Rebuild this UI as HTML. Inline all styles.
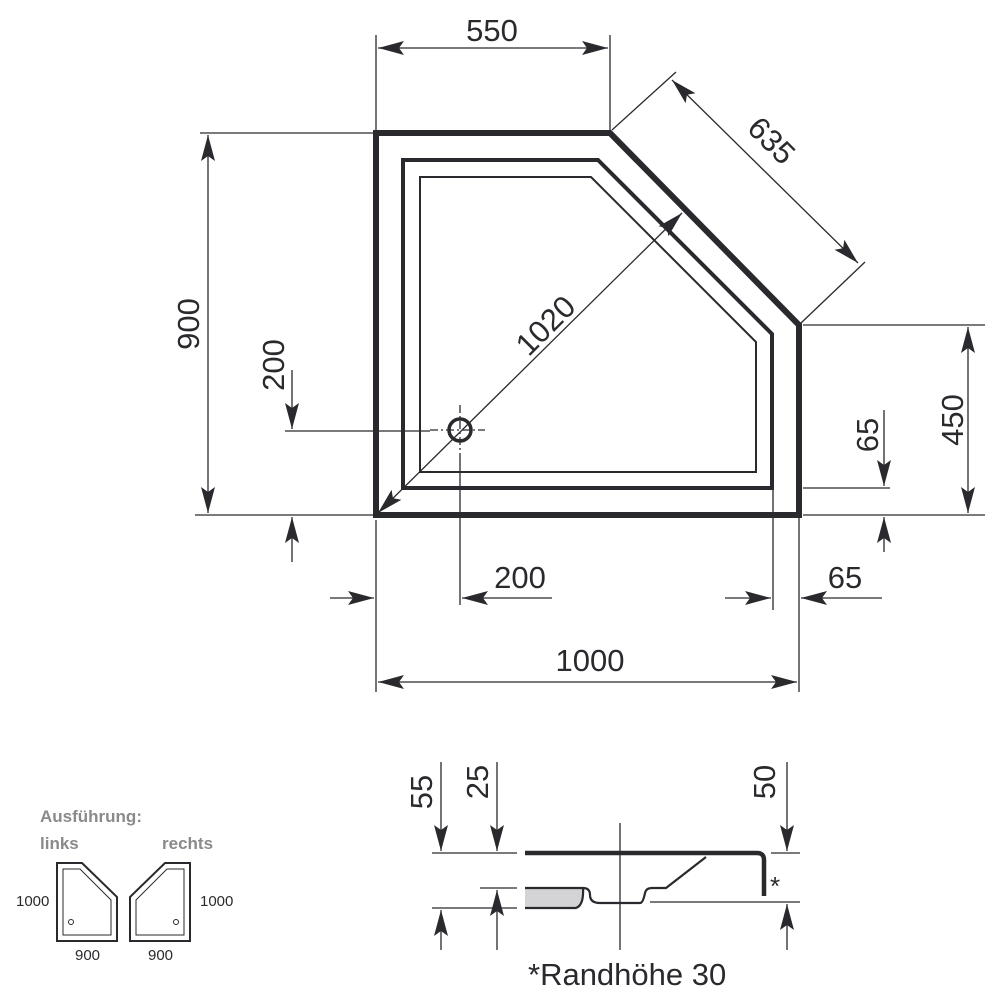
<!DOCTYPE html>
<html><head><meta charset="utf-8"><style>
html,body{margin:0;padding:0;background:#fff;}
svg{display:block}
text{font-family:"Liberation Sans",sans-serif;fill:#2a2a2e}
</style></head><body>
<svg width="1000" height="1000" viewBox="0 0 1000 1000" xmlns="http://www.w3.org/2000/svg">
<defs>
<marker id="a" viewBox="0 0 26 14" refX="26" refY="7" markerWidth="26" markerHeight="14" markerUnits="userSpaceOnUse" orient="auto-start-reverse">
<path d="M0,0 L26,7 L0,14 L5,7 z" fill="#2a2a2e"/></marker>
</defs>
<g stroke="#2a2a2e" fill="none">
<path d="M376,133 H610 L799,325 V515 H376 Z" stroke-width="6"/>
<path d="M403,160 H598 L772,334 V488 H403 Z" stroke-width="4"/>
<path d="M420,177 H591 L756,342 V472 H420 Z" stroke-width="2"/>
<circle cx="460" cy="430" r="11" stroke-width="3.5"/>
<g stroke-width="1.3">
<path d="M430,430 H485 M460,405 V455" stroke-dasharray="8,3,2,3"/>
<path d="M376,35 V133 M610,35 V133"/>
<path d="M200,133 H376 M195,515 H376 M285,431 H430"/>
<path d="M612,130 L676,72 M801,323 L865,262"/>
<path d="M803,325 H985 M803,515 H985 M803,488 H890"/>
<path d="M376,520 V692 M460,455 V605 M773,490 V610 M799,518 V692"/>
<path d="M378,48 H608" marker-start="url(#a)" marker-end="url(#a)"/>
<path d="M672,80 L858,263" marker-start="url(#a)" marker-end="url(#a)"/>
<path d="M208,135 V513" marker-start="url(#a)" marker-end="url(#a)"/>
<path d="M968,327 V513" marker-start="url(#a)" marker-end="url(#a)"/>
<path d="M378,513 L682,213" marker-start="url(#a)" marker-end="url(#a)"/>
<path d="M378,682 H797" marker-start="url(#a)" marker-end="url(#a)"/>
<path d="M292,370 V429" marker-end="url(#a)"/>
<path d="M292,562 V517" marker-end="url(#a)"/>
<path d="M884,410 V486" marker-end="url(#a)"/>
<path d="M884,552 V517" marker-end="url(#a)"/>
<path d="M330,598 H374" marker-end="url(#a)"/>
<path d="M552,598 H462" marker-end="url(#a)"/>
<path d="M725,598 H771" marker-end="url(#a)"/>
<path d="M882,598 H801" marker-end="url(#a)"/>
<path d="M432,853 H517 M771,853 H800 M480,888 H517 M432,908 H517 M650,902 H800 M620,823 V950"/>
<path d="M441,762 V851" marker-end="url(#a)"/>
<path d="M497,762 V851" marker-end="url(#a)"/>
<path d="M787,762 V851" marker-end="url(#a)"/>
<path d="M441,950 V910" marker-end="url(#a)"/>
<path d="M497,950 V890" marker-end="url(#a)"/>
<path d="M787,950 V904" marker-end="url(#a)"/>
</g>
<path d="M525,853 H757 Q764,853 764,860 V896" stroke-width="4.5"/>
<path d="M525,888 H583 Q584,905 576,908 H525 Z" fill="#d4d4d6" stroke="none"/>
<path d="M525,888 H583 Q590,888 590,895 Q590,903 600,903 H640 Q643,903 645,893 Q646,888 652,888 H666 L706,857 M525,908 H576 Q584,905 583,888" stroke-width="2.2"/>
<path d="M57,863 H82 L117,897 V941 H57 Z" stroke-width="2"/>
<path d="M63,869 H80 L111,900 V935 H63 Z" stroke-width="1"/>
<circle cx="71" cy="922" r="2.5" stroke-width="1"/>
<path d="M190,863 H165 L130,897 V941 H190 Z" stroke-width="2"/>
<path d="M184,869 H167 L136,900 V935 H184 Z" stroke-width="1"/>
<circle cx="176" cy="922" r="2.5" stroke-width="1"/>
</g>
<g font-size="31">
<text x="492" y="41" text-anchor="middle">550</text>
<text x="590" y="671" text-anchor="middle">1000</text>
<text x="520" y="588" text-anchor="middle">200</text>
<text x="845" y="588" text-anchor="middle">65</text>
<text transform="translate(199,324) rotate(-90)" text-anchor="middle">900</text>
<text transform="translate(284,365) rotate(-90)" text-anchor="middle">200</text>
<text transform="translate(963,420) rotate(-90)" text-anchor="middle">450</text>
<text transform="translate(878,435) rotate(-90)" text-anchor="middle">65</text>
<text transform="translate(553,333) rotate(-45)" text-anchor="middle">1020</text>
<text transform="translate(764,148) rotate(45)" text-anchor="middle">635</text>
<text transform="translate(432,792) rotate(-90)" text-anchor="middle">55</text>
<text transform="translate(488,782) rotate(-90)" text-anchor="middle">25</text>
<text transform="translate(775,782) rotate(-90)" text-anchor="middle">50</text>
<text x="528" y="985">*Randhöhe 30</text>
<text x="770" y="895" font-size="26">*</text>
</g>
<g font-size="17" style="font-weight:bold">
<text x="40" y="822" style="fill:#8a8a8a">Ausführung:</text>
<text x="40" y="849" style="fill:#8a8a8a">links</text>
<text x="162" y="849" style="fill:#8a8a8a">rechts</text>
</g>
<g font-size="15">
<text x="16" y="906">1000</text>
<text x="200" y="906">1000</text>
<text x="75" y="960">900</text>
<text x="148" y="960">900</text>
</g>
</svg>
</body></html>
